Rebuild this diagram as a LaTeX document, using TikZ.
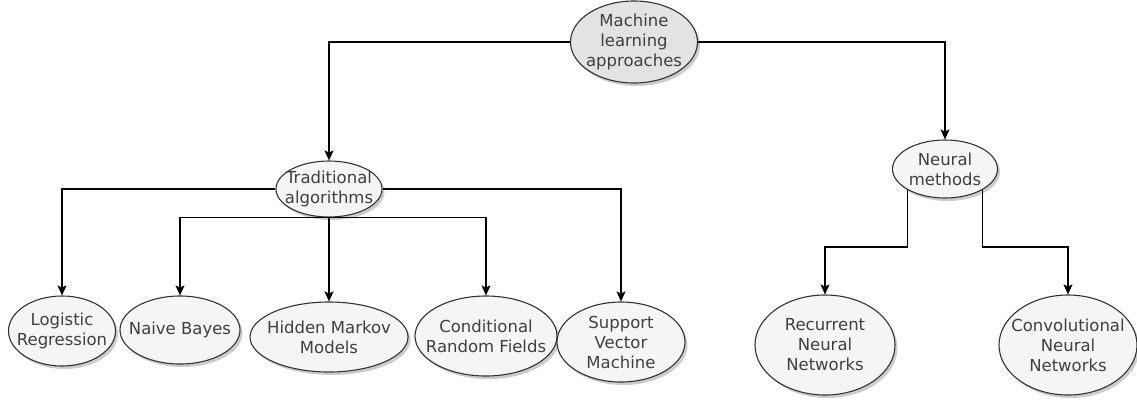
\documentclass[tikz,border=0pt]{standalone}
\usepackage{fontspec}
\setmainfont{DejaVu Sans}
\usetikzlibrary{arrows.meta,shadows,shapes.geometric}
\definecolor{txt}{HTML}{404040}
\definecolor{edge}{HTML}{333333}
\definecolor{rootfill}{HTML}{E3E3E3}
\definecolor{leaffill}{HTML}{F5F5F5}
\tikzset{
  ell/.style={ellipse, draw=edge, line width=1.1pt, fill=leaffill, inner sep=0pt,
    drop shadow={shadow xshift=2.5pt, shadow yshift=-3pt, fill=black, opacity=0.2}},
  lbl/.style={text=txt, align=center, font=\fontsize{16.5}{20}\selectfont, inner sep=0pt},
  arr/.style={draw=black, line width=1.2pt, -{Stealth[length=10pt,width=9pt,inset=2pt]}},
}
\begin{document}
\begin{tikzpicture}[x=1pt,y=-1pt]
\useasboundingbox (0,0) rectangle (1137,400);
% nodes
\node[ell, fill=rootfill, minimum width=127pt, minimum height=82pt,
  label={[lbl]center:Machine\\learning\\approaches}] (root) at (634,42) {};
\node[ell, minimum width=106pt, minimum height=56pt,
  label={[lbl]center:Traditional\\algorithms}] (trad) at (329,189) {};
\node[ell, minimum width=105pt, minimum height=58pt,
  label={[lbl]center:Neural\\methods}] (neural) at (945,169) {};
\node[ell, minimum width=107pt, minimum height=70pt,
  label={[lbl]center:Logistic\\Regression}] (lr) at (62,331) {};
\node[ell, minimum width=120pt, minimum height=68pt,
  label={[lbl]center:Naive Bayes}] (nb) at (180,330) {};
\node[ell, minimum width=158pt, minimum height=70pt,
  label={[lbl]center:Hidden Markov\\Models}] (hmm) at (329,337) {};
\node[ell, minimum width=142pt, minimum height=80pt,
  label={[lbl]center:Conditional\\Random Fields}] (crf) at (486,336) {};
\node[ell, minimum width=128pt, minimum height=80pt,
  label={[lbl]center:Support\\Vector\\Machine}] (svm) at (621,342) {};
\node[ell, minimum width=140pt, minimum height=100pt,
  label={[lbl]center:Recurrent\\Neural\\Networks}] (rnn) at (825,345) {};
\node[ell, minimum width=138pt, minimum height=100pt,
  label={[lbl]center:Convolutional\\Neural\\Networks}] (cnn) at (1068,345) {};
\coordinate (mid) at (0,247);
% connectors
\draw[arr] (root.west) -| (trad.north);
\draw[arr] (root.east) -| (neural.north);
\draw[arr] (trad.west) -| (lr.north);
\draw[arr] (trad.east) -| (svm.north);
\draw[arr] (trad.south) -| (nb.north);
\draw[arr] (trad.south) -| (crf.north);
\draw[arr] (trad.south) -- (hmm.north);
\draw[arr] (neural.south west) -- (neural.south west |- mid) -| (rnn.north);
\draw[arr] (neural.south east) -- (neural.south east |- mid) -| (cnn.north);
\end{tikzpicture}
\end{document}
